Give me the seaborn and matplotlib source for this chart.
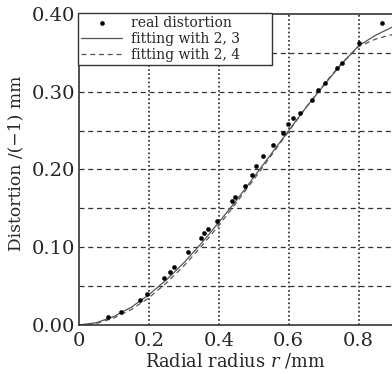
import numpy as np
import pandas as pd
import matplotlib
matplotlib.use("Agg")
import matplotlib.pyplot as plt
import seaborn as sns

real_r = [0.084, 0.119, 0.175, 0.195, 0.243, 0.260, 0.273, 0.313, 0.349, 0.359,
          0.370, 0.394, 0.439, 0.446, 0.475, 0.494, 0.507, 0.527, 0.556, 0.585,
          0.599, 0.613, 0.632, 0.666, 0.685, 0.704, 0.737, 0.752, 0.802, 0.866]
real_d = [0.010, 0.017, 0.032, 0.040, 0.061, 0.068, 0.074, 0.094, 0.112, 0.118,
          0.123, 0.134, 0.160, 0.165, 0.179, 0.193, 0.204, 0.217, 0.231, 0.247,
          0.259, 0.266, 0.273, 0.290, 0.302, 0.311, 0.330, 0.337, 0.363, 0.389]

# fitted curves
fit_r = [0.0, 0.05, 0.1, 0.15, 0.2, 0.25, 0.3, 0.35, 0.4, 0.45, 0.5, 0.55,
         0.6, 0.65, 0.7, 0.75, 0.8, 0.85, 0.9]
fit23 = [0.0, 0.003, 0.011, 0.023, 0.039, 0.058, 0.080, 0.105, 0.132, 0.160,
         0.190, 0.220, 0.250, 0.280, 0.308, 0.335, 0.359, 0.373, 0.384]
fit24 = [0.0, 0.002, 0.009, 0.020, 0.035, 0.054, 0.076, 0.101, 0.128, 0.157,
         0.187, 0.218, 0.249, 0.280, 0.309, 0.336, 0.358, 0.368, 0.374]

sns.set_style("white")
plt.rcParams['font.family'] = ['DejaVu Serif']
plt.rcParams['mathtext.fontset'] = 'dejavuserif'

fig = plt.figure(figsize=(3.92, 3.74), dpi=100)
ax = fig.add_axes([0.2015, 0.131, 0.7985, 0.8316])

real = pd.DataFrame({'r': real_r, 'd': real_d})
fits = pd.DataFrame({'r': fit_r, 'f23': fit23, 'f24': fit24})

sns.lineplot(data=fits, x='r', y='f23', ax=ax, color='#555555', lw=0.9,
             label='fitting with 2, 3')
sns.lineplot(data=fits, x='r', y='f24', ax=ax, color='#555555', lw=0.9,
             linestyle=(0, (4, 3)), label='fitting with 2, 4')
sns.scatterplot(data=real, x='r', y='d', ax=ax, color='black', s=9,
                marker='o', edgecolor='black', linewidth=0.3,
                label='real distortion', zorder=3)

ax.set_xlim(0, 0.8956)
ax.set_ylim(0, 0.40)
ax.set_xticks([0, 0.2, 0.4, 0.6, 0.8])
ax.set_xticklabels(['0', '0.2', '0.4', '0.6', '0.8'])
ax.set_yticks([0, 0.1, 0.2, 0.3, 0.4])
ax.set_yticklabels(['0.00', '0.10', '0.20', '0.30', '0.40'])

# dotted verticals, dashed horizontals every 0.05
for x in [0.2, 0.4, 0.6, 0.8]:
    ax.axvline(x, color='#222222', lw=1.2, linestyle=(0, (1, 1.5)), zorder=0)
for y in np.arange(1, 8) * 0.05:
    ax.axhline(y, color='#333333', lw=0.9, linestyle=(0, (4, 3)), zorder=0)

ax.tick_params(axis='y', labelsize=14, length=0, pad=3)
ax.tick_params(axis='x', labelsize=14, length=0, pad=5)
ax.set_xlabel('Radial radius $r$ /mm', fontsize=12.8, labelpad=1)
ax.set_ylabel('Distortion /(\u22121) mm', fontsize=12.3)
ax.yaxis.set_label_coords(-0.175, 0.52)

for s in ['left', 'bottom', 'top']:
    ax.spines[s].set_color('#333333')
    ax.spines[s].set_linewidth(1.2)
ax.spines['right'].set_visible(False)

h, l = ax.get_legend_handles_labels()
order = [2, 0, 1]
leg = ax.legend([h[i] for i in order], [l[i] for i in order], loc='upper left',
                bbox_to_anchor=(-0.003, 0.862, 0.62, 0.141), mode='expand',
                fontsize=10, frameon=True,
                fancybox=False, edgecolor='#333333', framealpha=1,
                borderpad=0.2, labelspacing=0.15, handlelength=3.0,
                handletextpad=0.6, borderaxespad=0)
leg.get_frame().set_linewidth(1.0)

fig.savefig('out.png', dpi=100)
